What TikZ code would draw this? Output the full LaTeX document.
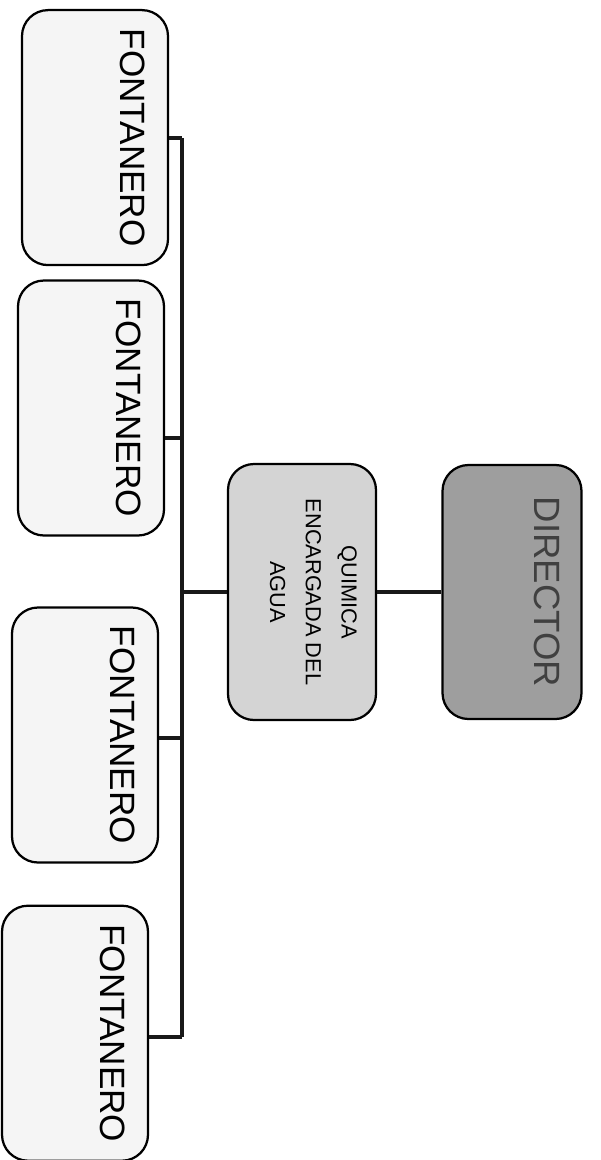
\documentclass[tikz,border=0pt]{standalone}
\usepackage{fontspec}
\setmainfont{Liberation Sans}
\tikzset{
  orgbox/.style={draw=black, line width=1.6pt, rounded corners=0.65cm, rotate=-90, inner sep=0pt},
  boss/.style={orgbox, fill=black!38, text=black!75, minimum width=6.35cm, minimum height=3.475cm,
    font=\fontsize{26}{30}\selectfont, text height=0.66cm, text depth=1.8cm},
  chemist/.style={orgbox, fill=black!17, minimum width=6.4cm, minimum height=3.7cm, align=center,
    font=\fontsize{15.5}{25.5}\selectfont, text height=2.2cm, text depth=0.6cm},
  plumber/.style={orgbox, fill=black!4, minimum width=6.375cm, minimum height=3.65cm,
    font=\fontsize{25}{30}\selectfont, text height=0.63cm, text depth=1.9cm},
  link/.style={line width=2.6pt, black!90}
}
\begin{document}
\begin{tikzpicture}
  \useasboundingbox (0,0) rectangle (15,-29);
  % top of the chart
  \node[boss] (director) at (12.8,-14.8) {DIRECTOR};
  \node[chemist] (quimica) at (7.55,-14.8) {QUIMICA\\ENCARGADA DEL\\AGUA};
  % plumbers
  \node[plumber] (f1) at (2.375,-3.44) {FONTANERO};
  \node[plumber] (f2) at (2.275,-10.2) {FONTANERO};
  \node[plumber] (f3) at (2.125,-18.375) {FONTANERO};
  \node[plumber] (f4) at (1.875,-25.83) {FONTANERO};
  % connectors
  \coordinate (bus) at (4.55,-14.8);
  \coordinate (b1) at (4.55,-3.45);
  \coordinate (b2) at (4.55,-10.95);
  \coordinate (b3) at (4.55,-18.45);
  \coordinate (b4) at (4.55,-25.93);
  \draw[link] (director.south) -- (quimica.north);
  \draw[link] (quimica.south) -- (bus);
  \draw[link] (b1) -- (b4);
  \foreach \i in {1,...,4}
    \draw[link] (b\i) -- (b\i -| f\i.north);
\end{tikzpicture}
\end{document}
